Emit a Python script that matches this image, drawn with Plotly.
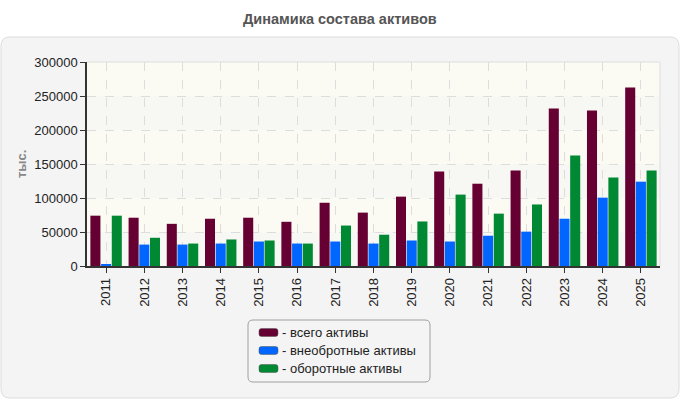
import plotly.graph_objects as go

years = ["2011", "2012", "2013", "2014", "2015", "2016", "2017", "2018",
         "2019", "2020", "2021", "2022", "2023", "2024", "2025"]
total_assets = [74000, 71000, 62000, 69500, 71000, 65000, 93000, 78500,
                102000, 139000, 121000, 140500, 231500, 228500, 262500]
noncurrent_assets = [1500, 31500, 31500, 33000, 36000, 33000, 36000, 33000,
                     37500, 36000, 44500, 50500, 69500, 100500, 124000]
current_assets = [74000, 41500, 33000, 39000, 37500, 33000, 59500, 46000,
                  65500, 105000, 77000, 90500, 162500, 130000, 140500]
series_names = ["- всего активы", "- внеобротные активы", "- оборотные активы"]
series_colors = ["#660033", "#0066FF", "#008833"]
title_text = "Динамика состава активов"
y_title = "тыс."

W, H = 680, 400
L, R, T, B = 87, 660, 62, 266  # plot area in pixels


def px(x):
    return (x - L) / (R - L)


def py(y):
    return (B - y) / (B - T)


def rounded_path(x0, y0, x1, y1, r):
    def P(x, y):
        return f"{px(x):.5f},{py(y):.5f}"
    d = (f"M {P(x0 + r, y0)} L {P(x1 - r, y0)} Q {P(x1, y0)} {P(x1, y0 + r)} "
         f"L {P(x1, y1 - r)} Q {P(x1, y1)} {P(x1 - r, y1)} "
         f"L {P(x0 + r, y1)} Q {P(x0, y1)} {P(x0, y1 - r)} "
         f"L {P(x0, y0 + r)} Q {P(x0, y0)} {P(x0 + r, y0)} Z")
    return d


fig = go.Figure()
for name, vals, col in zip(series_names, [total_assets, noncurrent_assets, current_assets], series_colors):
    fig.add_trace(go.Bar(x=years, y=vals, name=name, marker=dict(color=col, line=dict(width=0)),
                         showlegend=False))

shapes = []
# outer panel
shapes.append(dict(type="path", xref="paper", yref="paper", layer="below",
                   path=rounded_path(1, 37, 679, 398, 9),
                   fillcolor="#F4F4F4", line=dict(color="#DDDDDD", width=1)))
# plot background bands
band_colors = ["#F7F7F3", "#FBFBF4"]
for i in range(6):
    shapes.append(dict(type="rect", xref="paper", yref="y", layer="below",
                       x0=0, x1=1, y0=i * 50000, y1=(i + 1) * 50000,
                       fillcolor=band_colors[i % 2], line=dict(width=0)))
# plot border top/right
shapes.append(dict(type="line", xref="paper", yref="paper", x0=0, x1=1, y0=1, y1=1,
                   line=dict(color="#DDDDDD", width=1)))
shapes.append(dict(type="line", xref="paper", yref="paper", x0=1, x1=1, y0=0, y1=1,
                   line=dict(color="#DDDDDD", width=1)))
# legend box
shapes.append(dict(type="path", xref="paper", yref="paper",
                   path=rounded_path(248, 320, 430, 382, 5),
                   fillcolor="#F4F4F4", line=dict(color="#A0A0A0", width=1)))
annotations = []
row_y = [332.5, 350.5, 368.5]
for name, col, yc in zip(series_names, series_colors, row_y):
    shapes.append(dict(type="path", xref="paper", yref="paper",
                       path=rounded_path(259, yc - 4, 278, yc + 4, 2.5),
                       fillcolor=col, line=dict(color="#555555", width=0.5)))
    annotations.append(dict(xref="paper", yref="paper", x=px(280), y=py(yc),
                            xanchor="left", yanchor="middle", showarrow=False,
                            text=name, font=dict(size=13, color="#222222")))

annotations.append(dict(xref="paper", yref="paper", x=px(340), y=py(19),
                        xanchor="center", yanchor="middle", showarrow=False,
                        text="<b>" + title_text + "</b>",
                        font=dict(size=14.5, color="#555555")))
annotations.append(dict(xref="paper", yref="paper", x=px(21), y=py(164),
                        xanchor="center", yanchor="middle", showarrow=False,
                        text="<b>" + y_title + "</b>", textangle=-90,
                        font=dict(size=13, color="#888888")))

fig.update_layout(
    width=W, height=H,
    margin=dict(l=L, r=W - R, t=T, b=H - B, pad=0),
    paper_bgcolor="white", plot_bgcolor="rgba(0,0,0,0)",
    font=dict(family="Liberation Sans, Arial, sans-serif", size=13, color="#222222"),
    barmode="group", bargap=0.16, bargroupgap=0.06,
    shapes=shapes, annotations=annotations,
    xaxis=dict(type="category", tickangle=-90, ticks="outside", ticklen=5, tickcolor="#333333",
               showline=True, linecolor="#333333", linewidth=1.5,
               showgrid=True, gridcolor="#DDDDDD", griddash="dash", gridwidth=1,
               tickfont=dict(size=13, color="#222222")),
    yaxis=dict(range=[0, 300000], tickvals=[0, 50000, 100000, 150000, 200000, 250000, 300000],
               ticktext=["0", "50000", "100000", "150000", "200000", "250000", "300000"],
               ticks="outside", ticklen=5, tickcolor="#333333",
               showline=True, linecolor="#333333", linewidth=1.5,
               showgrid=True, gridcolor="#DDDDDD", griddash="dash", gridwidth=1,
               zeroline=False, tickfont=dict(size=13, color="#222222")),
)
fig.write_html("out.html")
